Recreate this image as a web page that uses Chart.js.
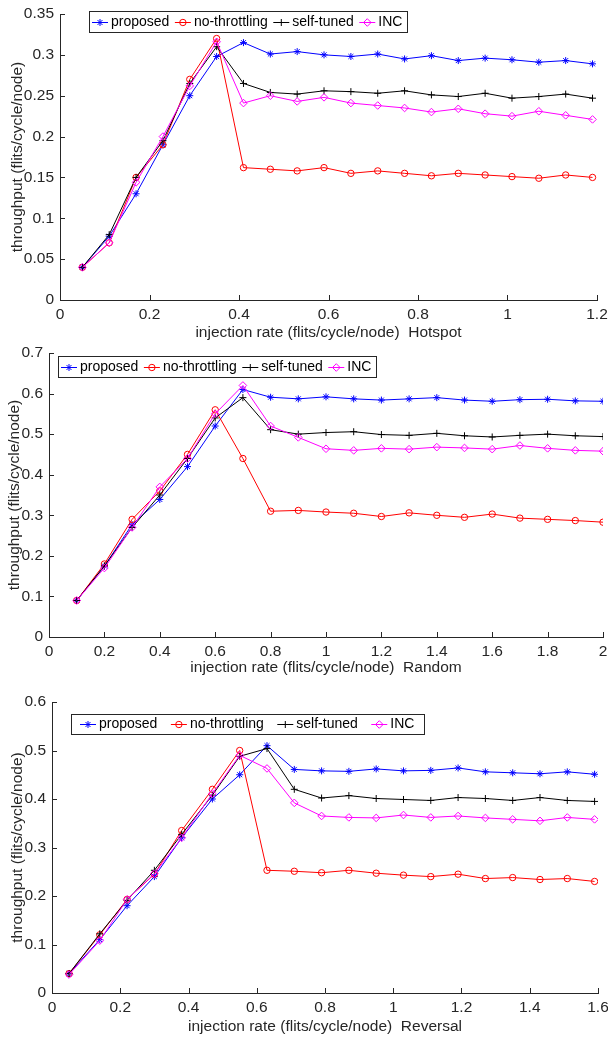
<!DOCTYPE html>
<html>
<head>
<meta charset="utf-8">
<script src="https://cdn.jsdelivr.net/npm/chart.js@4.4.1/dist/chart.umd.min.js"></script>
<style>
  html, body { margin: 0; padding: 0; background: #fff; }
  body { width: 608px; height: 1039px; position: relative; overflow: hidden; }
  canvas { position: absolute; left: 0; }
</style>
</head>
<body>
<canvas id="hotspot" width="608" height="350" style="top:0px"></canvas>
<canvas id="random" width="608" height="350" style="top:340px"></canvas>
<canvas id="reversal" width="608" height="354" style="top:685px"></canvas>
<script>
const seriesNames = ['proposed', 'no-throttling', 'self-tuned', 'INC'];

// Hotspot traffic
const hotspotRate = [0.05, 0.11, 0.17, 0.23, 0.29, 0.35, 0.41, 0.47, 0.53, 0.59, 0.65, 0.71, 0.77, 0.83, 0.89, 0.95, 1.01, 1.07, 1.13, 1.19];
const hotspotProposed = [0.04, 0.078, 0.13, 0.19, 0.25, 0.298, 0.315, 0.301, 0.304, 0.300, 0.298, 0.301, 0.295, 0.299, 0.293, 0.296, 0.294, 0.291, 0.293, 0.289];
const hotspotNoThrottling = [0.04, 0.07, 0.15, 0.19, 0.27, 0.32, 0.162, 0.160, 0.158, 0.162, 0.155, 0.158, 0.155, 0.152, 0.155, 0.153, 0.151, 0.149, 0.153, 0.150];
const hotspotSelfTuned = [0.04, 0.08, 0.15, 0.195, 0.265, 0.31, 0.265, 0.254, 0.252, 0.256, 0.255, 0.253, 0.256, 0.251, 0.249, 0.253, 0.247, 0.249, 0.252, 0.247];
const hotspotINC = [0.04, 0.07, 0.144, 0.20, 0.262, 0.316, 0.241, 0.250, 0.243, 0.248, 0.241, 0.238, 0.235, 0.230, 0.234, 0.228, 0.225, 0.231, 0.226, 0.221];

// Random traffic
const randomRate = [0.1, 0.2, 0.3, 0.4, 0.5, 0.6, 0.7, 0.8, 0.9, 1.0, 1.1, 1.2, 1.3, 1.4, 1.5, 1.6, 1.7, 1.8, 1.9, 2.0];
const randomProposed = [0.09, 0.175, 0.277, 0.339, 0.42, 0.52, 0.61, 0.591, 0.587, 0.592, 0.587, 0.584, 0.587, 0.590, 0.584, 0.581, 0.585, 0.586, 0.582, 0.581];
const randomNoThrottling = [0.09, 0.18, 0.29, 0.36, 0.45, 0.56, 0.44, 0.31, 0.312, 0.308, 0.305, 0.297, 0.306, 0.300, 0.295, 0.303, 0.293, 0.290, 0.287, 0.283];
const randomSelfTuned = [0.09, 0.175, 0.27, 0.35, 0.44, 0.54, 0.59, 0.511, 0.500, 0.504, 0.506, 0.499, 0.497, 0.502, 0.496, 0.493, 0.497, 0.500, 0.496, 0.494];
const randomINC = [0.09, 0.17, 0.27, 0.37, 0.44, 0.55, 0.62, 0.52, 0.492, 0.464, 0.460, 0.465, 0.463, 0.468, 0.466, 0.463, 0.472, 0.465, 0.460, 0.458];

// Reversal traffic
const reversalRate = [0.05, 0.14, 0.22, 0.30, 0.38, 0.47, 0.55, 0.63, 0.71, 0.79, 0.87, 0.95, 1.03, 1.11, 1.19, 1.27, 1.35, 1.43, 1.51, 1.59];
const reversalProposed = [0.04, 0.11, 0.18, 0.24, 0.32, 0.40, 0.45, 0.51, 0.461, 0.458, 0.457, 0.462, 0.458, 0.459, 0.464, 0.456, 0.454, 0.452, 0.456, 0.451];
const reversalNoThrottling = [0.04, 0.12, 0.193, 0.245, 0.335, 0.42, 0.50, 0.253, 0.251, 0.248, 0.253, 0.247, 0.243, 0.240, 0.245, 0.236, 0.238, 0.234, 0.236, 0.230];
const reversalSelfTuned = [0.04, 0.122, 0.191, 0.253, 0.327, 0.408, 0.488, 0.504, 0.420, 0.402, 0.407, 0.401, 0.399, 0.397, 0.403, 0.401, 0.397, 0.403, 0.397, 0.395];
const reversalINC = [0.038, 0.108, 0.193, 0.246, 0.32, 0.411, 0.49, 0.463, 0.392, 0.365, 0.362, 0.361, 0.367, 0.362, 0.365, 0.361, 0.358, 0.355, 0.362, 0.358];

const FONT = '"Liberation Sans", Arial, Helvetica, sans-serif';
const AXIS = '#262626';
const AXIS_FONT_SIZE = 15.5;
const LEGEND_FONT_SIZE = 14;
const seriesColors = ['#0000ff', '#ff0000', '#000000', '#ff00ff'];
const seriesMarkers = ['star', 'circle', 'cross', 'rectRot'];
const markerRadius = [3.5, 3.2, 3.5, 3.8];
const SEG = 16;       // legend line sample length
const SEG_GAP = 3;    // space between sample and its label

const fmt = v => String(+Number(v).toFixed(2));

// MATLAB style ticks pointing into the plot area
const innerTicks = {
    id: 'innerTicks',
    beforeDatasetsDraw(chart) {
        const { ctx, chartArea: a, scales: { x, y } } = chart;
        ctx.save();
        ctx.strokeStyle = AXIS;
        ctx.lineWidth = 1;
        ctx.beginPath();
        x.ticks.forEach(t => {
            const px = Math.round(x.getPixelForValue(t.value)) + 0.5;
            ctx.moveTo(px, a.bottom);
            ctx.lineTo(px, a.bottom - 5);
        });
        y.ticks.forEach(t => {
            const py = Math.round(y.getPixelForValue(t.value)) + 0.5;
            ctx.moveTo(a.left, py);
            ctx.lineTo(a.left + 5, py);
        });
        ctx.stroke();
        ctx.restore();
    }
};

// boxed horizontal legend with line + marker samples
const boxLegend = {
    id: 'boxLegend',
    afterDatasetsDraw(chart, args, opts) {
        const ctx = chart.ctx;
        ctx.save();
        ctx.font = LEGEND_FONT_SIZE + 'px ' + FONT;
        const widths = seriesNames.map(n => ctx.measureText(n).width);
        const w = opts.padL + seriesNames.length * (SEG + SEG_GAP)
            + widths.reduce((s, v) => s + v, 0)
            + (seriesNames.length - 1) * opts.gap + opts.padR;
        ctx.fillStyle = '#fff';
        ctx.fillRect(opts.x, opts.y, w, opts.h);
        ctx.strokeStyle = AXIS;
        ctx.lineWidth = 1;
        ctx.strokeRect(opts.x + 0.5, opts.y + 0.5, Math.round(w), opts.h);

        const cy = Math.round(opts.y + opts.h / 2) + 0.5;
        let cx = opts.x + opts.padL;
        seriesNames.forEach((name, i) => {
            ctx.strokeStyle = seriesColors[i];
            ctx.beginPath();
            ctx.moveTo(cx, cy);
            ctx.lineTo(cx + SEG, cy);
            ctx.stroke();
            ctx.fillStyle = 'rgba(0,0,0,0)';
            Chart.helpers.drawPoint(ctx, {
                pointStyle: seriesMarkers[i], radius: markerRadius[i], borderWidth: 1, rotation: 0
            }, cx + SEG / 2, cy);
            ctx.fillStyle = '#000';
            ctx.textBaseline = 'middle';
            ctx.textAlign = 'left';
            ctx.fillText(name, cx + SEG + SEG_GAP, cy);
            cx += SEG + SEG_GAP + widths[i] + opts.gap;
        });
        ctx.restore();
    }
};

function buildChart(id, p) {
    const datasets = p.series.map((ys, i) => ({
        label: seriesNames[i],
        data: p.rate.map((x, k) => ({ x: x, y: ys[k] })),
        borderColor: seriesColors[i],
        borderWidth: 1,
        pointStyle: seriesMarkers[i],
        pointRadius: markerRadius[i],
        pointBorderColor: seriesColors[i],
        pointBackgroundColor: 'rgba(0,0,0,0)',
        pointBorderWidth: 1,
        tension: 0,
        order: 3 - i
    }));

    const canvas = document.getElementById(id);
    const W = canvas.width, H = canvas.height;
    const font = { family: FONT, size: AXIS_FONT_SIZE };

    return new Chart(canvas, {
        type: 'line',
        data: { datasets },
        plugins: [innerTicks, boxLegend],
        options: {
            responsive: false,
            animation: false,
            devicePixelRatio: 1,
            layout: { padding: { left: 0, top: p.area.top, right: W - p.area.right, bottom: 0 } },
            plugins: {
                legend: { display: false },
                tooltip: { enabled: false },
                boxLegend: p.legend
            },
            scales: {
                x: {
                    type: 'linear',
                    min: 0,
                    max: p.xMax,
                    grid: { drawOnChartArea: false, drawTicks: false },
                    border: { display: true, color: AXIS, width: 1 },
                    ticks: { stepSize: 0.2, padding: 5, color: AXIS, font, callback: fmt, maxRotation: 0, autoSkip: false },
                    title: { display: true, text: p.xTitle, color: AXIS, font, padding: { top: 0, bottom: p.xTitlePad } },
                    afterFit: s => { s.height = H - p.area.bottom; s.paddingLeft = 0; s.paddingRight = 0; }
                },
                y: {
                    type: 'linear',
                    min: 0,
                    max: p.yMax,
                    grid: { drawOnChartArea: false, drawTicks: false },
                    border: { display: true, color: AXIS, width: 1 },
                    ticks: { stepSize: p.yStep, padding: 6, color: AXIS, font, callback: fmt, autoSkip: false },
                    title: { display: true, text: 'throughput (flits/cycle/node)', color: AXIS, font, padding: { top: p.yTitlePad, bottom: 0 } },
                    afterFit: s => { s.width = p.area.left; s.paddingTop = 0; s.paddingBottom = 0; }
                }
            }
        }
    });
}

buildChart('hotspot', {
    rate: hotspotRate,
    series: [hotspotProposed, hotspotNoThrottling, hotspotSelfTuned, hotspotINC],
    xMax: 1.2, yMax: 0.35, yStep: 0.05,
    xTitle: 'injection rate (flits/cycle/node)  Hotspot',
    area: { left: 60, top: 14, right: 597, bottom: 300 },
    xTitlePad: 7.7, yTitlePad: 8.7,
    legend: { x: 89, y: 11, h: 21, padL: 3, gap: 5.5, padR: 5 }
});

buildChart('random', {
    rate: randomRate,
    series: [randomProposed, randomNoThrottling, randomSelfTuned, randomINC],
    xMax: 2, yMax: 0.7, yStep: 0.1,
    xTitle: 'injection rate (flits/cycle/node)  Random',
    area: { left: 49, top: 13, right: 604, bottom: 297 },
    xTitlePad: 12.7, yTitlePad: 5.2,
    legend: { x: 58, y: 16, h: 21, padL: 3, gap: 5.5, padR: 5 }
});

buildChart('reversal', {
    rate: reversalRate,
    series: [reversalProposed, reversalNoThrottling, reversalSelfTuned, reversalINC],
    xMax: 1.6, yMax: 0.6, yStep: 0.1,
    xTitle: 'injection rate (flits/cycle/node)  Reversal',
    area: { left: 52, top: 17, right: 598, bottom: 308 },
    xTitlePad: 2.7, yTitlePad: 8.2,
    legend: { x: 71, y: 29, h: 20, padL: 9, gap: 13.5, padR: 10 }
});
</script>
</body>
</html>
